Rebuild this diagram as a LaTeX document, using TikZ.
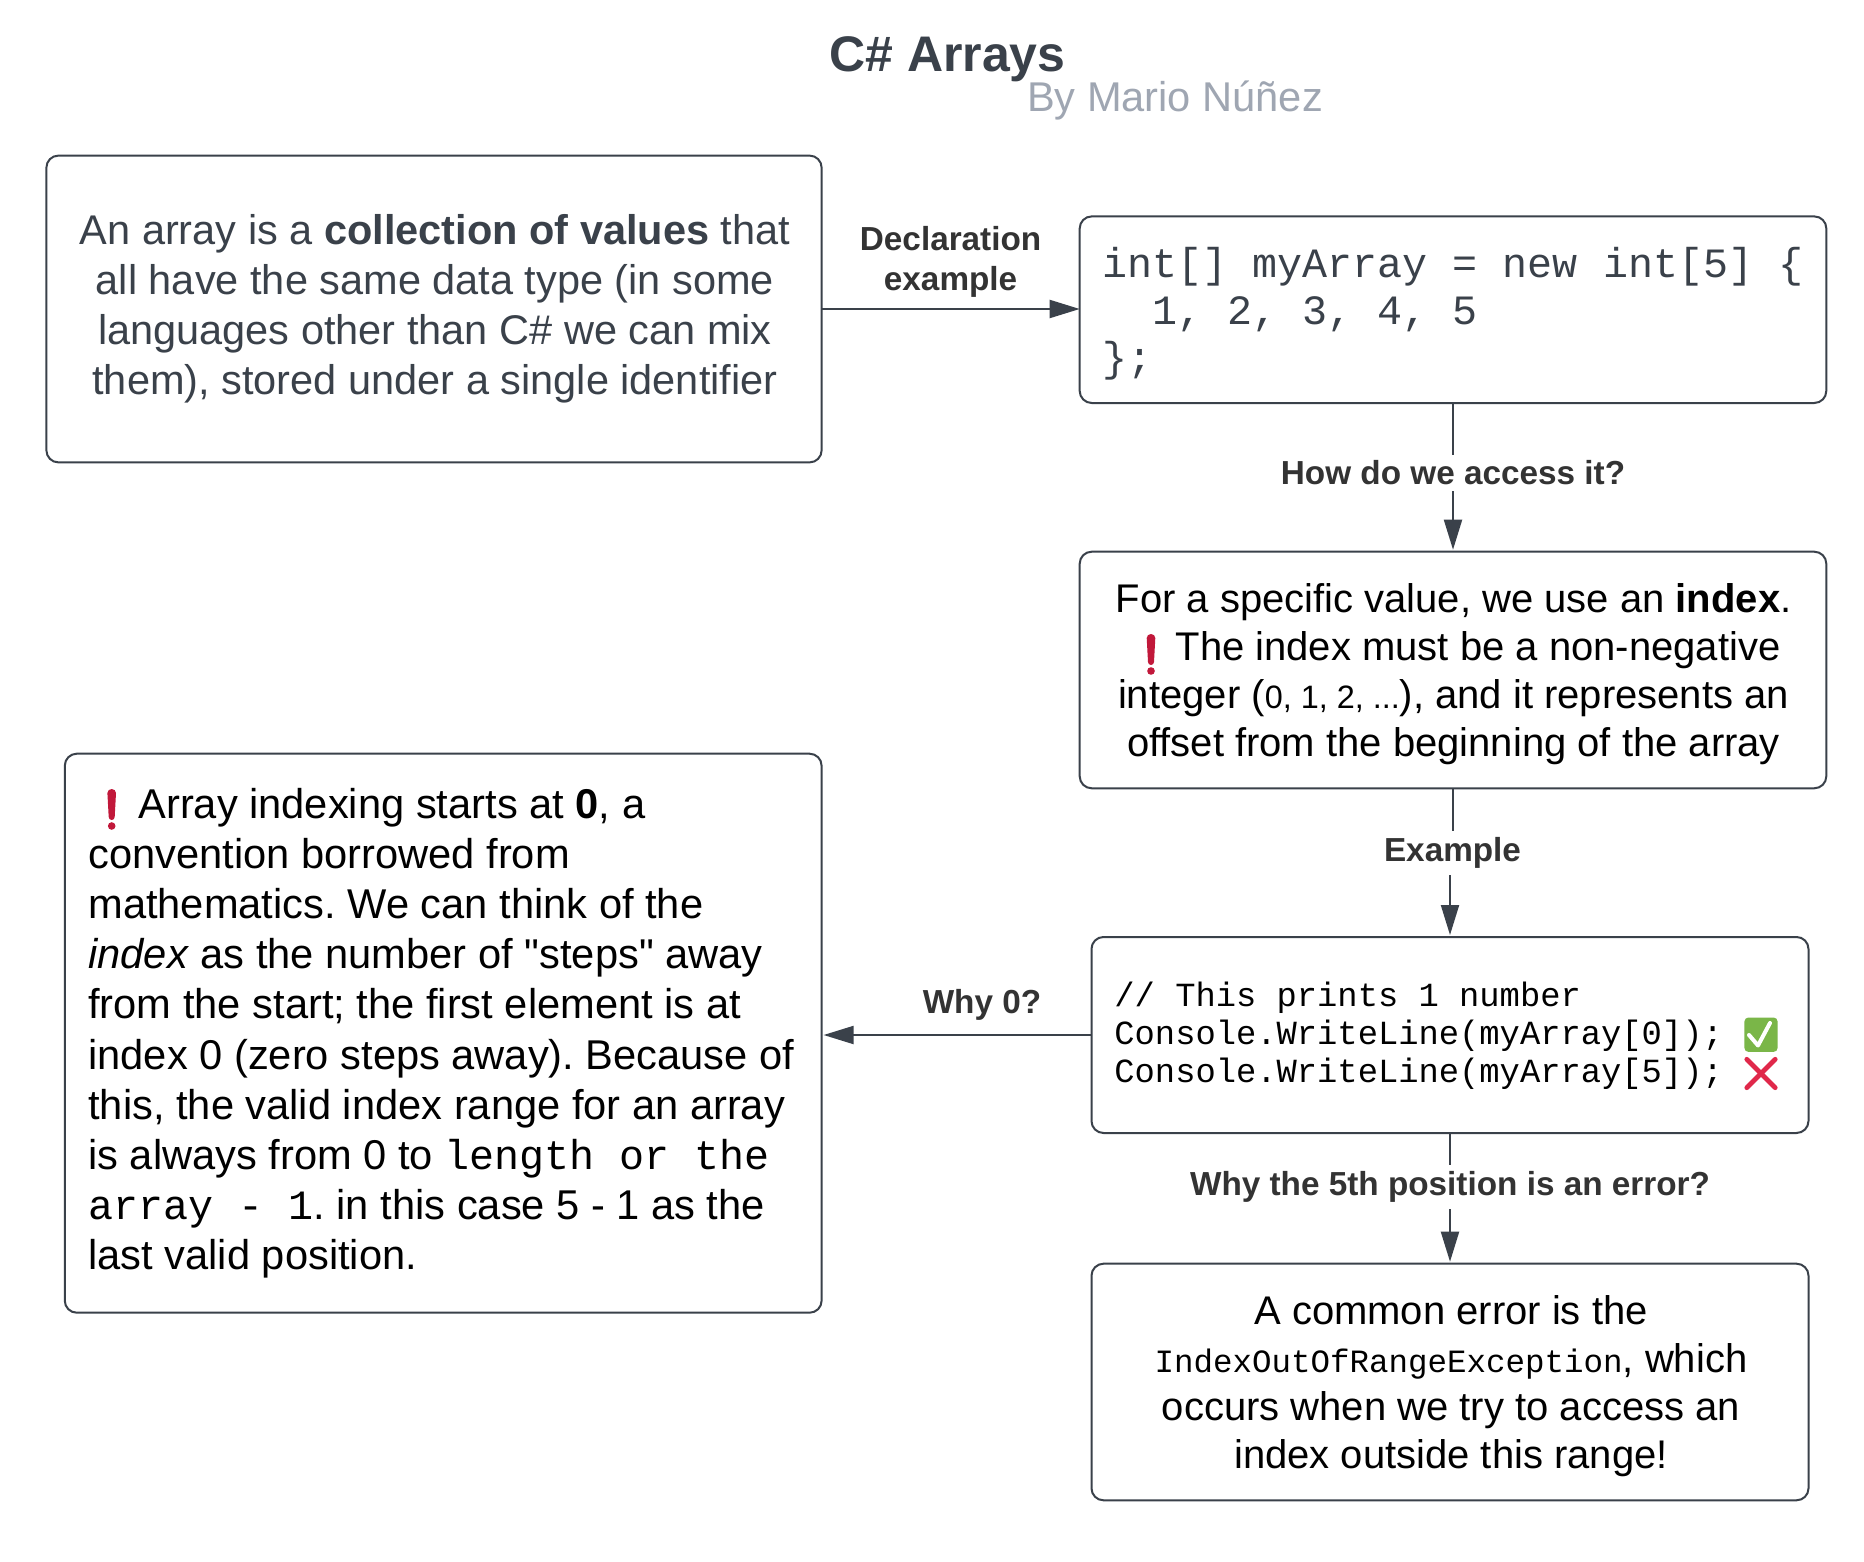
\documentclass[tikz,border=0pt]{standalone}
\usepackage{fontspec}
\usetikzlibrary{arrows.meta}
\setmainfont{Liberation Sans}
\newfontfamily\codefont[Ligatures=NoCommon]{Liberation Mono}
\newfontfamily\plainsans{Liberation Sans}
\definecolor{ink}{HTML}{3A414A}
\definecolor{labelink}{HTML}{333333}
\definecolor{subgray}{HTML}{9FA6B2}
\definecolor{alertred}{HTML}{C1183A}
\definecolor{crossred}{HTML}{E0284A}
\definecolor{okgreen}{HTML}{7AB648}
\tikzset{
  boxnode/.style={draw=ink,line width=1pt,rounded corners=6pt,fill=white,inner sep=0pt,outer sep=0pt},
  bodytext/.style={inner sep=0pt,font=\fontsize{20.75}{25.1}\selectfont\frenchspacing},
  widetext/.style={inner sep=0pt,font=\fontsize{20.82}{25.1}\selectfont\frenchspacing},
  smalltext/.style={inner sep=0pt,font=\fontsize{20}{24}\selectfont\frenchspacing},
  linklabel/.style={fill=white,inner xsep=1pt,inner ysep=3pt,text=labelink,align=center,font=\fontsize{16.65}{20}\selectfont\bfseries},
  link/.style={draw=ink,line width=1pt,-{Triangle[length=15pt,width=9pt]}},
}
\newcommand{\alertmark}[2]{%
  \fill[alertred] (#1-4.3,#2+4) to[out=90,in=180] (#1,#2) to[out=0,in=90] (#1+4.3,#2+4)
     -- (#1+3,#2+28) to[out=-90,in=0] (#1,#2+31) to[out=180,in=-90] (#1-3,#2+28) -- cycle;
  \fill[alertred] (#1,#2+37) circle[radius=3.8];
}
\begin{document}
\begin{tikzpicture}[x=0.5pt,y=-0.5pt]
\useasboundingbox[fill=white] (0,0) rectangle (1864,1562);

\node[text=ink,font=\fontsize{25}{30}\selectfont\bfseries,inner sep=0pt] (title) at (947.5,59.5) {C\# Arrays};
\node[text=subgray,font=\fontsize{20.8}{25}\selectfont,inner sep=0pt] (byline) at (1175,100.5) {By Mario Núñez};

\node[boxnode,minimum width=387.6pt,minimum height=153.4pt] (a) at (434,309) {};
\node[boxnode,minimum width=373.3pt,minimum height=93.3pt] (b) at (1453,309.7) {};
\node[boxnode,minimum width=373.3pt,minimum height=118.3pt] (c) at (1453,670) {};
\node[boxnode,minimum width=358.5pt,minimum height=98pt] (d) at (1450,1035) {};
\node[boxnode,minimum width=358.5pt,minimum height=118.3pt] (e) at (1450,1382) {};
\node[boxnode,minimum width=378.4pt,minimum height=279.5pt] (f) at (443.2,1033.2) {};

\node[bodytext,text=ink,align=center] (ta) at (435,308.6) {An array is a \textbf{collection of values} that\\all have the same data type (in some\\languages other than C\# we can mix\\them), stored under a single identifier};

\node[inner sep=0pt,text=ink,align=left,anchor=west,font=\fontsize{20.85}{23.6}\selectfont\codefont] (tb) at (1102.2,314) {int[] myArray = new int[5] \{\\\phantom{xx}1, 2, 3, 4, 5\\\};};

\node[smalltext,text=black,align=center] (tc) at (1453.5,674) {For a specific value, we use an \textbf{index}.\\\hspace*{24.5pt}The index must be a non-negative\\integer ({\fontsize{16.2}{24}\selectfont 0, 1, 2, ...}), and it represents an\\offset from the beginning of the array};

\node[inner sep=0pt,text=black,align=left,anchor=west,font=\fontsize{16.9}{19}\selectfont\codefont] (td) at (1114,1035.5) {// This prints 1 number\\Console.WriteLine(myArray[0]);\\Console.WriteLine(myArray[5]);};

\node[smalltext,text=black,align=center] (te) at (1451,1386) {A common error is the\\{\codefont\fontsize{16.25}{24}\selectfont IndexOutOfRangeException}, which\\occurs when we try to access an\\index outside this range!};

\node[widetext,text=black,align=left,anchor=west] (tf) at (88,1033.3) {\hspace*{25pt}Array indexing starts at \textbf{0}, a\\convention borrowed from\\mathematics. We can think of the\\\textit{index} as the number of {\plainsans"steps"} away\\from the start; the first element is at\\index 0 (zero steps away). Because of\\this, the valid index range for an array\\is always from 0 to {\codefont\fontsize{20.85}{25.1}\selectfont length or the}\\{\codefont\fontsize{20.85}{25.1}\selectfont array - 1}. in this case 5 - 1 as the\\last valid position.};

\alertmark{111.7}{789}
\alertmark{1151}{634}

% check mark and cross
\node[fill=okgreen,rounded corners=2pt,minimum width=16.6pt,minimum height=17.2pt,inner sep=0pt] (ok) at (1761,1034.7) {};
\draw[white,line width=2pt,line cap=round,line join=round] (1749,1035) -- (1758,1045.5) -- (1770,1023);
\node[minimum width=13.8pt,minimum height=13.8pt,inner sep=0pt] (no) at (1761,1073.5) {};
\draw[crossred,line width=2.4pt,line cap=round] (no.north west) -- (no.south east);
\draw[crossred,line width=2.4pt,line cap=round] (no.north east) -- (no.south west);

\draw[link] (a.east) -- (a.east -| b.west);
\draw[link,shorten >=1pt] (b.south) -- (c.north);
\coordinate (cbend1) at (1453,853);
\coordinate (cbend2) at (1450,853);
\draw[link,shorten >=1pt] (c.south) -- (cbend1) -- (cbend2) -- (d.north);
\draw[link,shorten >=1pt] (d.south) -- (e.north);
\draw[link,shorten >=1pt] (d.west) -- (d.west -| f.east);

\node[linklabel] (l1) at (950.6,261.5) {Declaration\\example};
\node[linklabel] (l2) at (1453,473) {How do we access it?};
\node[linklabel] (l3) at (1452.5,853) {Example};
\node[linklabel] (l4) at (1450,1187) {Why the 5th position is an error?};
\node[linklabel] (l5) at (982,1005) {Why 0?};
\end{tikzpicture}
\end{document}
